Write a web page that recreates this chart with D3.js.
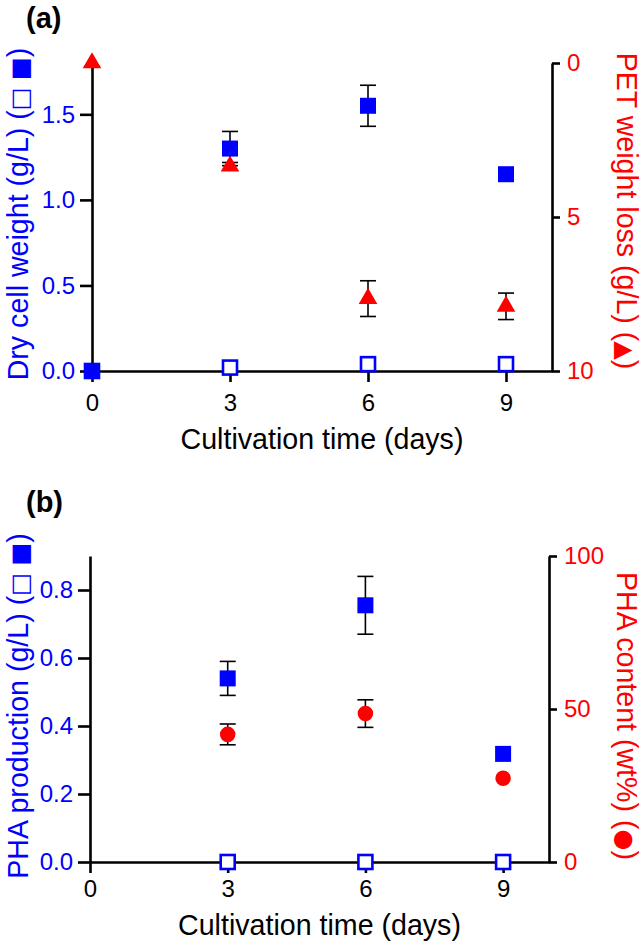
<!DOCTYPE html>
<html><head><meta charset="utf-8">
<script src="https://cdn.jsdelivr.net/npm/d3@7"></script>
<style>body{margin:0;background:#fff}svg{display:block}text{font-family:"Liberation Sans",Arial,sans-serif}</style>
</head><body>
<svg id="chart" width="644" height="947"></svg>
<script>
// ---- Data ----
const days = [0, 3, 6, 9];
const xTicks = [0, 3, 6, 9];
// Panel (a)
const dcwPET = [0, 1.30, 1.55, 1.15];
const dcwPETErr = [0, 0.10, 0.12, 0];
const dcwCtrl = [0, 0.02, 0.04, 0.04];
const petLoss = [0, 3.35, 7.65, 7.9];
const petLossErr = [0, 0.12, 0.58, 0.43];
const aLeftTicks = [0, 0.5, 1.0, 1.5];
const aRightTicks = [0, 5, 10];
// Panel (b)
const daysB = [3, 6, 9];
const phaProd = [0.54, 0.755, 0.318];
const phaProdErr = [0.05, 0.085, 0];
const phaCtrl = [0, 0, 0];
const phaContent = [41.7, 48.5, 27.4];
const phaContentErr = [3.4, 4.5, 0];
const bLeftTicks = [0, 0.2, 0.4, 0.6, 0.8];
const bRightTicks = [0, 50, 100];

const BLUE = "#0000ff", RED = "#ff0000";
const svg = d3.select("#chart");

function panel(cfg) {
  const g = svg.append("g");
  const x = d3.scaleLinear().domain([0, 10]).range([cfg.x0, cfg.x1]);
  const yL = d3.scaleLinear().domain(cfg.leftDomain).range([cfg.yb, cfg.yt]);
  const yR = d3.scaleLinear().domain(cfg.rightDomain).range(cfg.rightReversed ? [cfg.yt, cfg.yb] : [cfg.yb, cfg.yt]);

  const xa = g.append("g").attr("transform", `translate(0,${cfg.yb})`)
    .call(d3.axisBottom(x).tickValues(xTicks).tickSize(11).tickPadding(cfg.xPad).tickSizeOuter(0));
  const la = g.append("g").attr("transform", `translate(${cfg.x0},0)`)
    .call(d3.axisLeft(yL).tickValues(cfg.leftTicks).tickFormat(d3.format(".1f")).tickSize(12).tickPadding(5).tickSizeOuter(0));
  const ra = g.append("g").attr("transform", `translate(${cfg.x1},0)`)
    .call(d3.axisRight(yR).tickValues(cfg.rightTicks).tickFormat(d3.format("d")).tickSize(8).tickPadding(7).tickSizeOuter(0));
  [xa, la, ra].forEach(a => {
    a.selectAll("path.domain").attr("stroke", "#000").attr("stroke-width", 2.6);
    a.selectAll(".tick line").attr("stroke", "#000").attr("stroke-width", 2.6);
    a.selectAll(".tick text").attr("font-size", 24).attr("font-family", "Liberation Sans, Arial, sans-serif");
  });
  xa.selectAll(".tick text").attr("fill", "#000");
  la.selectAll(".tick text").attr("fill", BLUE);
  ra.selectAll(".tick text").attr("fill", RED);

  function errBars(xs, vals, errs, y) {
    xs.forEach((d, i) => {
      if (!errs[i]) return;
      const cx = x(d), t = y(vals[i] + errs[i]), b = y(vals[i] - errs[i]);
      g.append("line").attr("x1", cx).attr("x2", cx).attr("y1", t).attr("y2", b).attr("stroke", "#000").attr("stroke-width", 1.6);
      [t, b].forEach(v => g.append("line").attr("x1", cx - 8).attr("x2", cx + 8).attr("y1", v).attr("y2", v).attr("stroke", "#000").attr("stroke-width", 1.6));
    });
  }
  errBars(cfg.xsMain, cfg.main, cfg.mainErr, yL);
  errBars(cfg.xsMain, cfg.right, cfg.rightErr, yR);

  const sym = d3.symbol().type(cfg.rightSymbol).size(cfg.rightSymbol === d3.symbolCircle ? 190 : 150);
  g.selectAll(null).data(cfg.xsMain.map((d, i) => [d, cfg.right[i]])).join("path")
    .attr("d", sym).attr("fill", RED)
    .attr("transform", d => `translate(${x(d[0])},${yR(d[1])})`);
  g.selectAll(null).data(cfg.xsMain.map((d, i) => [d, cfg.main[i]])).join("rect")
    .attr("x", d => x(d[0]) - 8).attr("y", d => yL(d[1]) - 8).attr("width", 16).attr("height", 16).attr("fill", BLUE);
  g.selectAll(null).data(cfg.xsMain.map((d, i) => [d, cfg.ctrl[i]])).join("rect")
    .attr("x", d => x(d[0]) - 7).attr("y", d => yL(d[1]) - 7).attr("width", 14).attr("height", 14)
    .attr("fill", (d, i) => cfg.main[i] === cfg.ctrl[i] ? "none" : "#fff")
    .attr("stroke", BLUE).attr("stroke-width", 2.6);

  g.append("text").attr("x", cfg.letterX).attr("y", cfg.letterY).attr("font-size", 29).attr("font-weight", "bold").text(cfg.letter);
  g.append("text").attr("x", (cfg.x0 + cfg.x1) / 2).attr("y", cfg.xTitleY).attr("text-anchor", "middle")
    .attr("font-size", 28.6).text("Cultivation time (days)");
  const lt = g.append("text").attr("transform", `translate(28,${cfg.leftTitleY}) rotate(-90)`)
    .attr("text-anchor", "middle").attr("font-size", 28.6).attr("fill", BLUE);
  lt.append("tspan").text(cfg.leftTitle + " (");
  lt.append("tspan").attr("font-family", "DejaVu Sans").attr("font-size", 24).text("□ ■");
  lt.append("tspan").text(")");
  const rt = g.append("text").attr("transform", `translate(617,${cfg.rightTitleY}) rotate(90)`)
    .attr("text-anchor", "middle").attr("font-size", 28.6).attr("fill", RED);
  rt.append("tspan").text(cfg.rightTitle + " (");
  rt.append("tspan").attr("font-family", "DejaVu Sans").attr("font-size", 24).text(cfg.rightGlyph);
  rt.append("tspan").text(")");
}

panel({
  x0: 92, x1: 552, yt: 63, yb: 371, xPad: 12,
  leftDomain: [0, 1.8], rightDomain: [0, 10], rightReversed: true,
  leftTicks: aLeftTicks, rightTicks: aRightTicks,
  xsMain: days, main: dcwPET, mainErr: dcwPETErr, ctrl: dcwCtrl,
  right: petLoss, rightErr: petLossErr, rightSymbol: d3.symbolTriangle,
  letter: "(a)", letterX: 26, letterY: 28, xTitleY: 449,
  leftTitle: "Dry cell weight (g/L)", leftTitleY: 214,
  rightTitle: "PET weight loss (g/L)", rightTitleY: 211, rightGlyph: "▲"
});
panel({
  x0: 90, x1: 549, yt: 556, yb: 862, xPad: 7,
  leftDomain: [0, 0.9], rightDomain: [0, 100], rightReversed: false,
  leftTicks: bLeftTicks, rightTicks: bRightTicks,
  xsMain: daysB, main: phaProd, mainErr: phaProdErr, ctrl: phaCtrl,
  right: phaContent, rightErr: phaContentErr, rightSymbol: d3.symbolCircle,
  letter: "(b)", letterX: 26, letterY: 512, xTitleY: 935,
  leftTitle: "PHA production (g/L)", leftTitleY: 706,
  rightTitle: "PHA content (wt%)", rightTitleY: 716, rightGlyph: "●"
});
</script>
</body></html>
